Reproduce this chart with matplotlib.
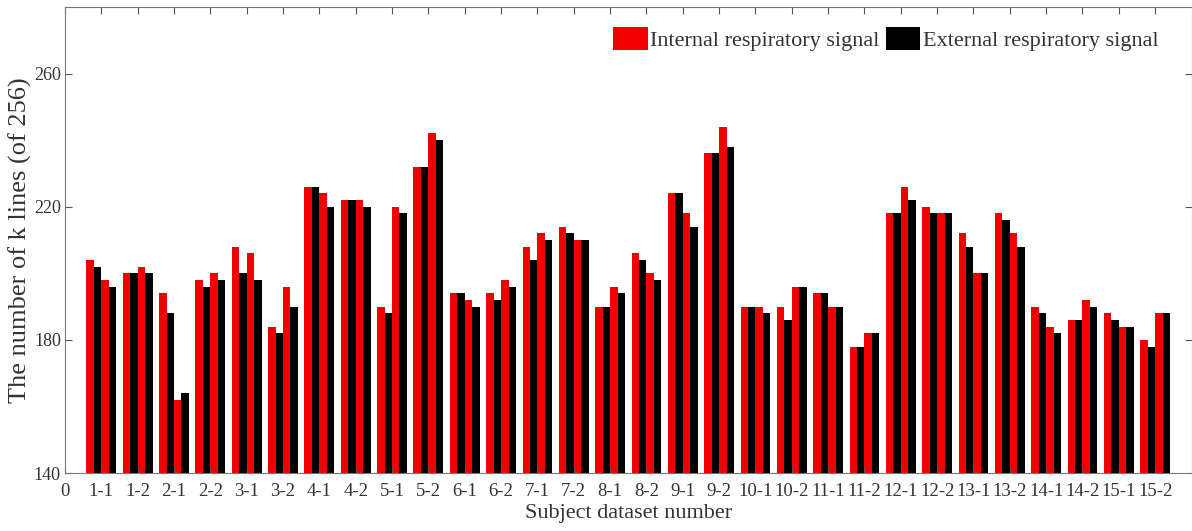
import matplotlib
matplotlib.use("Agg")
import matplotlib.pyplot as plt
import numpy as np

plt.rcParams['font.family'] = ['Liberation Serif', 'DejaVu Serif']

categories = ["1-1", "1-2", "2-1", "2-2", "3-1", "3-2", "4-1", "4-2", "5-1", "5-2",
              "6-1", "6-2", "7-1", "7-2", "8-1", "8-2", "9-1", "9-2", "10-1", "10-2",
              "11-1", "11-2", "12-1", "12-2", "13-1", "13-2", "14-1", "14-2", "15-1", "15-2"]

# four bars per dataset: internal, external, internal, external
internal_a = [204, 200, 194, 198, 208, 184, 226, 222, 190, 232,
              194, 194, 208, 214, 190, 206, 224, 236, 190, 190,
              194, 178, 218, 220, 212, 218, 190, 186, 188, 180]
external_a = [202, 200, 188, 196, 200, 182, 226, 222, 188, 232,
              194, 192, 204, 212, 190, 204, 224, 236, 190, 186,
              194, 178, 218, 218, 208, 216, 188, 186, 186, 178]
internal_b = [198, 202, 162, 200, 206, 196, 224, 222, 220, 242,
              192, 198, 212, 210, 196, 200, 218, 244, 190, 196,
              190, 182, 226, 218, 200, 212, 184, 192, 184, 188]
external_b = [196, 200, 164, 198, 198, 190, 220, 220, 218, 240,
              190, 196, 210, 210, 194, 198, 214, 238, 188, 196,
              190, 182, 222, 218, 200, 208, 182, 190, 184, 188]

yticks = [140, 180, 220, 260]

red = '#f20000'
black = '#000000'

W, H = 1192, 531
fig = plt.figure(figsize=(W / 100, H / 100), dpi=100)
left, right, top, bottom = 65, 1191.5, 7, 473
ax = fig.add_axes([left / W, 1 - bottom / H, (right - left) / W, (bottom - top) / H])

x = np.arange(1, len(categories) + 1)
w = 0.205
ax.bar(x - 1.5 * w, internal_a, w, color=red, label='Internal respiratory signal')
ax.bar(x - 0.5 * w, external_a, w, color=black, label='External respiratory signal')
ax.bar(x + 0.5 * w, internal_b, w, color=red)
ax.bar(x + 1.5 * w, external_b, w, color=black)

ax.set_xlim(0, 31)
ax.set_ylim(140, 280)
ax.set_xticks(np.arange(0, len(categories) + 1))
ax.set_xticklabels(["0"] + categories, fontsize=13.5)
ax.set_yticks(yticks)
ax.set_yticklabels([str(t) for t in yticks], fontsize=13)
ax.tick_params(direction='in', top=True, right=True, length=5, color='#555555',
               labelcolor='#333333')
ax.tick_params(axis='x', pad=7)
ax.tick_params(axis='y', pad=3)
for s in ax.spines.values():
    s.set_color('#777777')

ax.set_xlabel('Subject dataset number', fontsize=16, color='#333333', labelpad=3)
ax.set_ylabel('The number of k lines (of 256)', fontsize=19, color='#333333', labelpad=1)

leg = ax.legend(loc='upper right', bbox_to_anchor=(0.9705, 0.958), ncol=2, frameon=False,
                fontsize=16, handlelength=1.55, handleheight=1.25, handletextpad=0.1,
                columnspacing=0.3, borderaxespad=0.0, borderpad=0.0)
for t in leg.get_texts():
    t.set_color('#333333')

fig.savefig('out.png', dpi=100)
